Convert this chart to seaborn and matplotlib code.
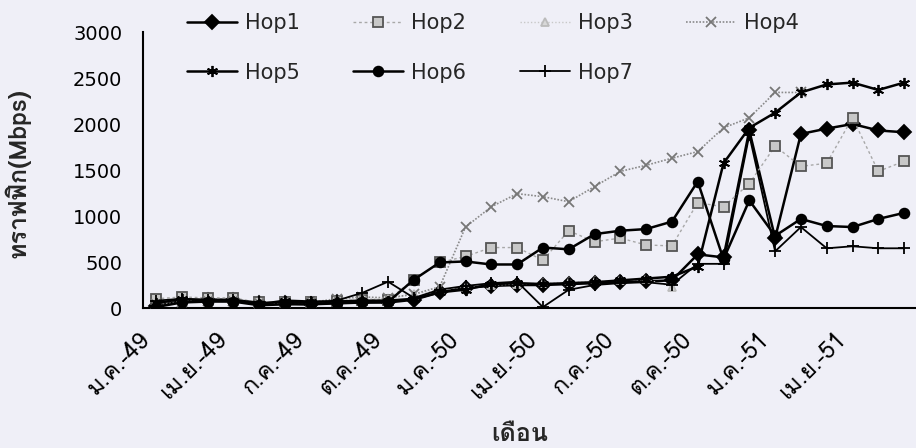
import numpy as np
import pandas as pd
import matplotlib
matplotlib.use("Agg")
import matplotlib.pyplot as plt
from matplotlib import font_manager
from matplotlib.transforms import ScaledTranslation
import seaborn as sns

# ---------------- data ----------------
months = ["ม.ค.-49", "ก.พ.-49", "มี.ค.-49", "เม.ย.-49", "พ.ค.-49", "มิ.ย.-49",
          "ก.ค.-49", "ส.ค.-49", "ก.ย.-49", "ต.ค.-49", "พ.ย.-49", "ธ.ค.-49",
          "ม.ค.-50", "ก.พ.-50", "มี.ค.-50", "เม.ย.-50", "พ.ค.-50", "มิ.ย.-50",
          "ก.ค.-50", "ส.ค.-50", "ก.ย.-50", "ต.ค.-50", "พ.ย.-50", "ธ.ค.-50",
          "ม.ค.-51", "ก.พ.-51", "มี.ค.-51", "เม.ย.-51", "พ.ค.-51", "มิ.ย.-51"]

hop1 = [20, 80, 90, 90, 50, 50, 40, 60, 60, 60, 90, 170, 220, 240, 250,
        250, 260, 270, 280, 290, 300, 583, 550, 1930, 760, 1892, 1950, 2000, 1930, 1910]
hop2 = [100, 120, 110, 110, 60, 60, 60, 80, 90, 90, 308, 495, 560, 657, 657,
        520, 840, 720, 760, 685, 675, 1145, 1100, 1353, 1760, 1540, 1573, 2068, 1485, 1595]
hop3 = [60, 90, 70, 70, 40, 60, 50, 90, 100, 100, 150, 200, 230, 250, 260,
        270, 280, 290, 300, 310, 230, None, None, None, None, None, None, None, None, None]
hop4 = [40, 60, 80, 80, 50, 70, 60, 100, 120, 110, 150, 231, 880, 1100, 1243,
        1210, 1155, 1320, 1485, 1551, 1628, 1700, 1958, 2068, 2343, 2343, None, None, None, None]
hop5 = [50, 100, 80, 80, 40, 80, 70, 70, 80, 80, 100, 170, 200, 260, 270,
        260, 270, 280, 300, 320, 340, 451, 1573, 1958, 2123, 2343, 2430, 2450, 2370, 2450]
hop6 = [10, 60, 70, 70, 30, 40, 40, 50, 60, 66, 308, 495, 506, 473, 473,
        657, 638, 803, 840, 858, 939, 1375, 530, 1170, 784, 968, 891, 880, 968, 1034]
hop7 = [80, 100, 90, 90, 60, 60, 60, 80, 165, 286, 110, 200, 240, 270, 286,
        10, 198, 250, 270, 280, 253, 480, 480, 1880, 616, 880, 649, 671, 649, 649]

series_names = ["Hop1", "Hop2", "Hop3", "Hop4", "Hop5", "Hop6", "Hop7"]
series_vals = [hop1, hop2, hop3, hop4, hop5, hop6, hop7]
ytick_vals = [0, 500, 1000, 1500, 2000, 2500, 3000]

# ---------------- fonts ----------------
def find_thai_fonts():
    try:
        from fontTools.ttLib import TTFont
    except Exception:
        return []
    seen = set()
    cands = []
    for f in font_manager.fontManager.ttflist:
        if f.fname in seen:
            continue
        seen.add(f.fname)
        try:
            kw = {"fontNumber": 0} if f.fname.lower().endswith(".ttc") else {}
            tt = TTFont(f.fname, lazy=True, **kw)
            cmap = tt.getBestCmap()
            if cmap and 0x0E14 in cmap and 0x0E19 in cmap:
                cands.append(f.name)
        except Exception:
            pass
    return cands

thai = find_thai_fonts()
pref = [n for n in ["Loma", "Tlwg Typo", "Garuda", "Norasi"] if n in thai]
thai_family = pref[0] if pref else (thai[0] if thai else "DejaVu Sans")

sns.set_theme(style="white")
plt.rcParams["font.family"] = ["DejaVu Sans"]

bg = "#efeff7"
fig = plt.figure(figsize=(9.16, 4.48), dpi=100, facecolor=bg)
ax = fig.add_axes([143 / 916, 1 - 308 / 448, (917 - 143) / 916, (308 - 32) / 448])
ax.set_facecolor(bg)

x = np.arange(len(months))
styles = {
    "Hop1": dict(color="black", marker="D", ms=7, lw=1.8, ls="-", mfc="black", mec="black"),
    "Hop2": dict(color="#a8a8a8", marker="s", ms=7, lw=1.0, ls=(0, (2, 2)), mfc="#c8c8c8", mec="#555555"),
    "Hop3": dict(color="#c8c8c8", marker="^", ms=6, lw=1.0, ls=(0, (1, 1.5)), mfc="#d8d8d8", mec="#bbbbbb"),
    "Hop4": dict(color="#8a8a8a", marker="x", ms=7, lw=1.2, ls=(0, (1, 1)), mfc="#777777", mec="#777777"),
    "Hop5": dict(color="black", marker=(6, 2, 0), ms=8, lw=1.8, ls="-", mfc="black", mec="black"),
    "Hop6": dict(color="black", marker="o", ms=7, lw=1.8, ls="-", mfc="black", mec="black"),
    "Hop7": dict(color="black", marker="+", ms=8, lw=1.3, ls="-", mfc="black", mec="black"),
}

handles = {}
for name, vals in zip(series_names, series_vals):
    df = pd.DataFrame({"m": x, "v": pd.array(vals, dtype="Float64").astype(float)})
    st = styles[name]
    sns.lineplot(data=df, x="m", y="v", ax=ax, color=st["color"], lw=st["lw"],
                 linestyle=st["ls"], marker=st["marker"], markersize=st["ms"],
                 markerfacecolor=st["mfc"], markeredgecolor=st["mec"], markeredgewidth=1.3,
                 label=name, legend=False, zorder=3)
    handles[name] = ax.lines[-1]

ax.set_yticks(ytick_vals)
ax.set_yticklabels([str(v) for v in ytick_vals], fontsize=14, family="DejaVu Sans")

# tick marks between categories (every 3 months)
label_idx = list(range(0, len(months), 3))
ax.set_xticks(np.array(label_idx) - 0.5)
ax.set_xticklabels([])
ax.set_xlim(-0.5, len(months) - 0.5)
ax.set_ylim(0, 3000)

# rotated month labels under each labelled category, ends just left of the category centre
lab_trans = ax.get_xaxis_transform() + ScaledTranslation(-18 / 100, -20 / 100, fig.dpi_scale_trans)
for i in label_idx:
    ax.text(i, 0, months[i], transform=lab_trans, rotation=45, ha="right", va="top",
            rotation_mode="anchor", fontsize=17, family=[thai_family, "DejaVu Sans"],
            color="black", clip_on=False)

ax.tick_params(axis="x", which="major", length=6, width=1.2, direction="out", color="black")
ax.tick_params(axis="y", length=6, width=1.2, direction="out", color="black", pad=9)
ax.tick_params(colors="black")

for s in ["top", "right"]:
    ax.spines[s].set_visible(False)
for s in ["left", "bottom"]:
    ax.spines[s].set_color("black")
    ax.spines[s].set_linewidth(1.5)

ax.set_xlabel("เดือน", fontsize=18, fontweight="bold", family=[thai_family, "DejaVu Sans"])
ax.set_ylabel("ทราฟฟิก(Mbps)", fontsize=18, fontweight="bold", family=[thai_family, "DejaVu Sans"])
ax.xaxis.set_label_coords(0.487, -0.415)
ax.yaxis.set_label_coords(-0.145, 0.49)

order = ["Hop1", "Hop5", "Hop2", "Hop6", "Hop3", "Hop7", "Hop4"]
leg = fig.legend([handles[n] for n in order], order, ncol=4, loc="upper left",
                 bbox_to_anchor=(168 / 916, 1.012), frameon=False, fontsize=15,
                 handlelength=2.4, columnspacing=2.55, labelspacing=1.4, handletextpad=0.4)

fig.savefig("out.png", dpi=100, facecolor=bg)
